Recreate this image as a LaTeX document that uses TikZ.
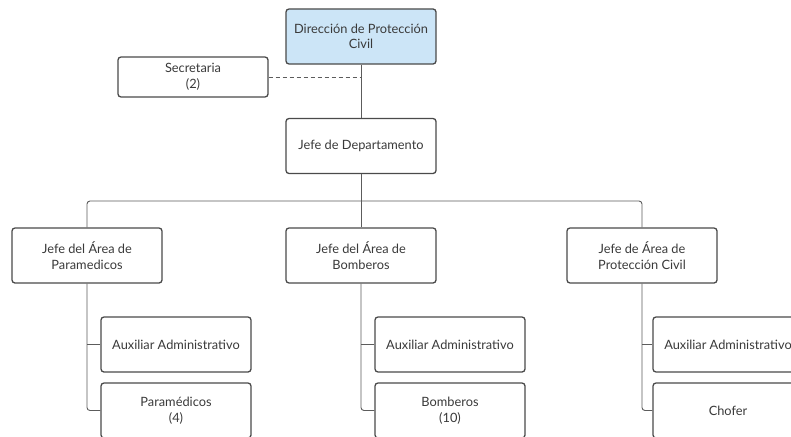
\documentclass[tikz,border=0pt]{standalone}
\usepackage{fontspec}
\setmainfont{Lato}
\definecolor{boxline}{HTML}{4A4A4A}
\definecolor{txt}{HTML}{3A3A3A}
\definecolor{topfill}{HTML}{CCE5F7}
\begin{document}
\begin{tikzpicture}[x=1pt,y=-1pt,
  orgbox/.style={draw=boxline, line width=1.3pt, rounded corners=3pt, fill=white,
    minimum width=150pt, minimum height=55pt, align=center, text=txt,
    font=\fontsize{12.8}{15.5}\selectfont, inner sep=0pt},
  link/.style={draw=boxline!90, line width=0.9pt}]
\useasboundingbox (0,0) rectangle (791,436);
\clip (0,0) rectangle (791,436);
\node[orgbox, fill=topfill] (dir) at (361,36.5) {Dirección de Protección\\Civil};
\node[orgbox, minimum height=40pt] (sec) at (193,77) {Secretaria\\(2)};
\node[orgbox] (dep) at (361,146) {Jefe de Departamento};
\node[orgbox] (jp) at (87,255.5) {Jefe del Área de\\Paramedicos};
\node[orgbox] (jb) at (361,255.5) {Jefe del Área de\\Bomberos};
\node[orgbox] (jc) at (642,255.5) {Jefe de Área de\\Protección Civil};
\node[orgbox] (pa) at (176,344.5) {Auxiliar Administrativo};
\node[orgbox] (pp) at (176,410.5) {Paramédicos\\(4)};
\node[orgbox] (ba) at (450,344.5) {Auxiliar Administrativo};
\node[orgbox] (bb) at (450,410.5) {Bomberos\\(10)};
\node[orgbox] (ca) at (728,344.5) {Auxiliar Administrativo};
\node[orgbox] (cc) at (728,410.5) {Chofer};
\coordinate (bus) at (361,201);
\coordinate (secend) at (361,77);
\draw[link] (dir.south) -- (dep.north);
\draw[link, dashed, dash pattern=on 4pt off 3pt] (sec.east) -- (secend);
\draw[link] (dep.south) -- (jb.north);
\draw[link, rounded corners=3pt] (jp.north) |- (bus) -| (jc.north);
\draw[link, rounded corners=3pt] (jp.south) |- (pp.west);
\draw[link] (pa.west) -- (pa.west -| jp.south);
\draw[link, rounded corners=3pt] (jb.south) |- (bb.west);
\draw[link] (ba.west) -- (ba.west -| jb.south);
\draw[link, rounded corners=3pt] (jc.south) |- (cc.west);
\draw[link] (ca.west) -- (ca.west -| jc.south);
\end{tikzpicture}
\end{document}
